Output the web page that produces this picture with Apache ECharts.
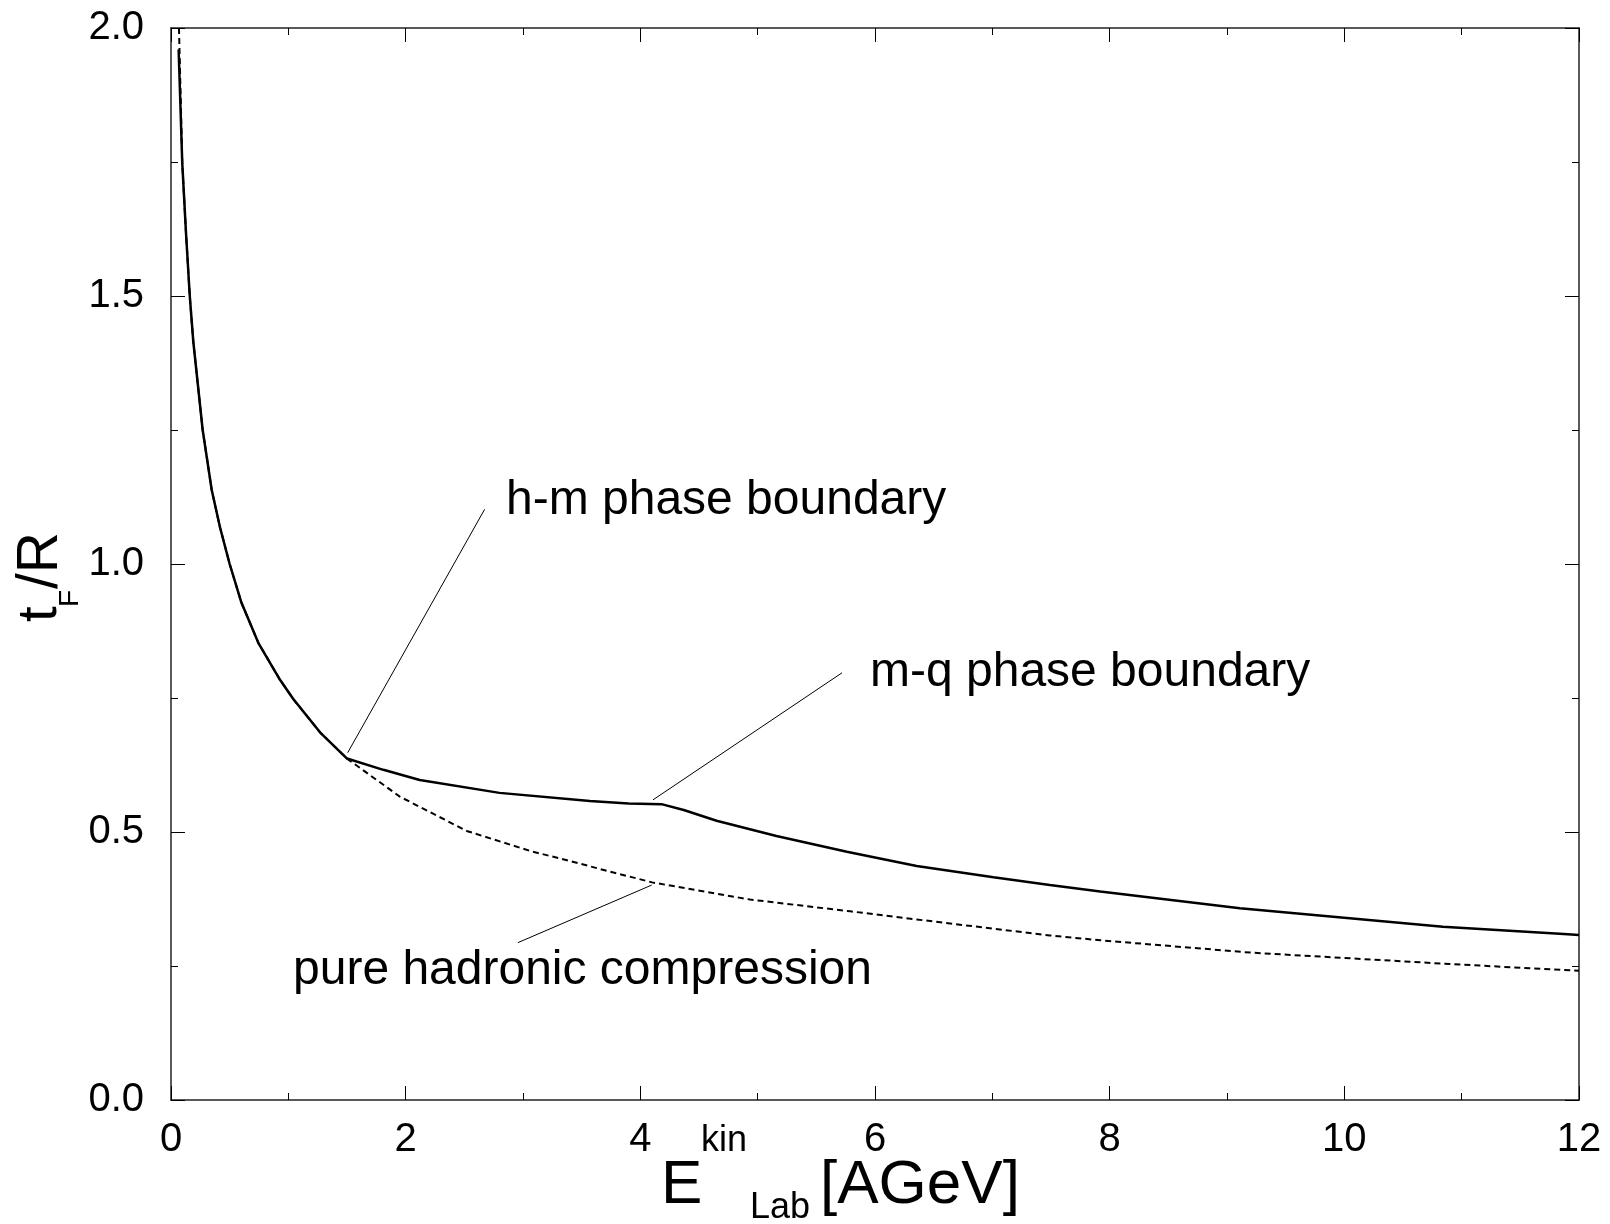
<!DOCTYPE html>
<html>
<head>
<meta charset="utf-8">
<script src="https://cdn.jsdelivr.net/npm/echarts@6/dist/echarts.min.js"></script>
<style>
html,body{margin:0;padding:0;background:#fff;}
#chart{width:1610px;height:1224px;}
</style>
</head>
<body>
<div id="chart"></div>
<script>
// ---- data (x = E_kin_Lab [AGeV], y = t_F/R) ----
const xTicks = [0, 2, 4, 6, 8, 10, 12];
const yTicks = ['0.0', '0.5', '1.0', '1.5', '2.0'];

const phaseCurve = [
  [0.065, 1.96], [0.096, 1.748], [0.128, 1.617], [0.16, 1.5], [0.19, 1.415],
  [0.27, 1.25], [0.347, 1.138], [0.418, 1.068], [0.50, 1.0], [0.60, 0.928],
  [0.744, 0.853], [0.929, 0.784], [1.042, 0.748], [1.27, 0.686], [1.5, 0.637],
  [1.81, 0.616], [2.12, 0.597], [2.8, 0.573], [3.57, 0.558], [3.9, 0.553],
  [4.18, 0.552], [4.37, 0.541], [4.65, 0.521], [5.16, 0.4925], [5.76, 0.463],
  [6.355, 0.4366], [7.01, 0.4155], [7.49, 0.401], [7.92, 0.389], [9.11, 0.3576],
  [10.84, 0.3234], [11.87, 0.3097], [12.0, 0.308]
];

const hadronicCurve = [
  [0.068, 2.0], [0.096, 1.748], [0.128, 1.617], [0.16, 1.5], [0.19, 1.415],
  [0.27, 1.25], [0.347, 1.138], [0.418, 1.068], [0.50, 1.0], [0.60, 0.928],
  [0.744, 0.853], [0.929, 0.784], [1.042, 0.748], [1.27, 0.686], [1.5, 0.637],
  [1.95, 0.566], [2.52, 0.502], [3.07, 0.464], [3.4, 0.446], [3.656, 0.431],
  [4.1, 0.406], [4.935, 0.374], [5.79, 0.352], [6.5, 0.333], [7.49, 0.307],
  [7.92, 0.298], [9.2, 0.275], [10.9, 0.2537], [11.87, 0.2425], [12.0, 0.241]
];

const hmLeader = [[1.506, 0.648], [2.673, 1.102]];
const mqLeader = [[4.108, 0.560], [5.719, 0.797]];
const pureLeader = [[4.097, 0.401], [2.956, 0.2935]];

const labelHM = 'h-m phase boundary';
const labelMQ = 'm-q phase boundary';
const labelPure = 'pure hadronic compression';

// ---- chart ----
const FONT = '"Liberation Sans", Arial, Helvetica, sans-serif';
const chart = echarts.init(document.getElementById('chart'), null, {renderer: 'canvas'});

function axisCommon(extra) {
  return Object.assign({
    type: 'value',
    axisLine: {show: true, onZero: false, lineStyle: {color: '#222', width: 1.5}},
    axisTick: {show: true, inside: true, length: 14, lineStyle: {color: '#000', width: 1}},
    minorTick: {show: true, splitNumber: 2, length: 7, lineStyle: {color: '#000', width: 1}},
    splitLine: {show: false},
    minorSplitLine: {show: false}
  }, extra);
}

const leaderStyle = {color: '#000', width: 1};
function leaderSeries(d) {
  return {type: 'line', data: d, symbol: 'none', silent: true,
          lineStyle: leaderStyle, z: 1};
}

function txt(x, y, s, size, rot) {
  const el = {type: 'text', x: x, y: y,
    style: {text: s, font: size + 'px ' + FONT, fill: '#000', align: 'left', verticalAlign: 'middle'}};
  if (rot) el.rotation = rot;
  return el;
}

chart.setOption({
  animation: false,
  backgroundColor: '#fff',
  grid: {left: 171, right: 31, top: 28, bottom: 124},
  xAxis: [
    axisCommon({min: 0, max: 12, interval: 2, position: 'bottom',
      axisLabel: {show: true, margin: 20, fontSize: 40, color: '#000', fontFamily: FONT,
        formatter: v => String(xTicks[xTicks.indexOf(v)])}}),
    axisCommon({min: 0, max: 12, interval: 2, position: 'top', axisLabel: {show: false}})
  ],
  yAxis: [
    axisCommon({min: 0, max: 2, interval: 0.5, position: 'left',
      axisLabel: {show: true, margin: 27, fontSize: 40, color: '#000', fontFamily: FONT,
        formatter: v => yTicks[Math.round(v / 0.5)]}}),
    axisCommon({min: 0, max: 2, interval: 0.5, position: 'right', axisLabel: {show: false}})
  ],
  series: [
    {type: 'line', name: 'phase transition', data: phaseCurve, symbol: 'none',
     lineStyle: {color: '#000', width: 2.5}, z: 3},
    {type: 'line', name: 'pure hadronic', data: hadronicCurve, symbol: 'none',
     lineStyle: {color: '#000', width: 2, type: [6, 4]}, z: 2},
    leaderSeries(hmLeader),
    leaderSeries(mqLeader),
    leaderSeries(pureLeader)
  ],
  graphic: [
    txt(506, 501, labelHM, 48),
    txt(870, 673, labelMQ, 48),
    txt(293, 971, labelPure, 48),
    // x-axis title: E^kin_Lab [AGeV]
    txt(661, 1186, 'E', 62),
    txt(701, 1141, 'kin', 36),
    txt(750, 1208, 'Lab', 36),
    txt(820, 1186, '[AGeV]', 62),
    // y-axis title: t_F/R (rotated)
    txt(41, 622, 't', 56, Math.PI / 2),
    txt(70, 607, 'F', 28, Math.PI / 2),
    txt(41, 589, '/R', 57, Math.PI / 2)
  ]
});
</script>
</body>
</html>
